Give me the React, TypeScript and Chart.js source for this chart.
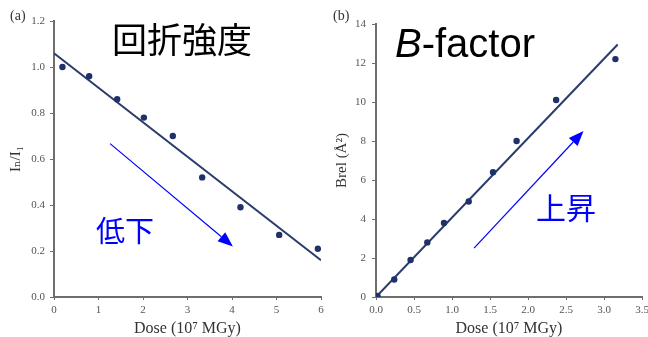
import React, { useEffect, useRef } from 'react';
import { Chart, registerables } from 'chart.js';
Chart.register(...registerables);

// ---- Panel (a): diffraction intensity ----
const doseA = [0.19, 0.79, 1.42, 2.02, 2.67, 3.33, 4.19, 5.06, 5.93];
const intensityA = [1.0, 0.96, 0.86, 0.78, 0.70, 0.52, 0.39, 0.27, 0.21];
const fitDoseA = [0, 6];
const fitIntensityA = [1.06, 0.16];
const arrowDoseA = [1.26, 4.02];
const arrowIntensityA = [0.667, 0.22];

// ---- Panel (b): B-factor ----
const doseB = [0.02, 0.24, 0.455, 0.675, 0.895, 1.22, 1.54, 1.85, 2.37, 3.15];
const bfactorB = [0.05, 0.9, 1.9, 2.8, 3.8, 4.9, 6.4, 8.0, 10.1, 12.2];
const fitDoseB = [0, 3.18];
const fitBfactorB = [0, 12.95];
const arrowDoseB = [1.29, 2.73];
const arrowBfactorB = [2.51, 8.51];

const POINT_COLOR = '#1e3168';
const LINE_COLOR = '#2b3c6c';
const AXIS_COLOR = '#6e6e6e';
const ARROW_COLOR = '#0000ff';
const SERIF = '"Liberation Serif", "DejaVu Serif", serif';

const toXY = (xs: number[], ys: number[]) => xs.map((x, i) => ({ x, y: ys[i] }));

function makeArrowPlugin(xs: number[], ys: number[], color: string) {
  return {
    id: 'arrowPlugin',
    afterDatasetsDraw(chart: any) {
      const sx = chart.scales.x;
      const sy = chart.scales.y;
      const x1 = sx.getPixelForValue(xs[0]);
      const y1 = sy.getPixelForValue(ys[0]);
      const x2 = sx.getPixelForValue(xs[1]);
      const y2 = sy.getPixelForValue(ys[1]);
      const ang = Math.atan2(y2 - y1, x2 - x1);
      const c = Math.cos(ang);
      const s = Math.sin(ang);
      const headLen = 15;
      const headW = 6;
      const bx = x2 - headLen * c;
      const by = y2 - headLen * s;
      const ctx = chart.ctx;
      ctx.save();
      ctx.strokeStyle = color;
      ctx.fillStyle = color;
      ctx.lineWidth = 1.2;
      ctx.beginPath();
      ctx.moveTo(x1, y1);
      ctx.lineTo(bx, by);
      ctx.stroke();
      ctx.beginPath();
      ctx.moveTo(x2, y2);
      ctx.lineTo(bx - headW * s, by + headW * c);
      ctx.lineTo(bx + headW * s, by - headW * c);
      ctx.closePath();
      ctx.fill();
      ctx.restore();
    },
  };
}

interface PanelProps {
  left: number;
  width: number;
  xs: number[];
  ys: number[];
  fitX: number[];
  fitY: number[];
  arrowX: number[];
  arrowY: number[];
  xMax: number;
  xStep: number;
  xDigits: number;
  yMax: number;
  yStep: number;
  yDigits: number;
  yTitle: string;
  yTitlePad: number;
  yAxisWidth: number;
  padTop: number;
  padRight: number;
  yTickPad: number;
}

function Panel(p: PanelProps) {
  const ref = useRef<HTMLCanvasElement | null>(null);
  useEffect(() => {
    if (!ref.current) return;
    const chart = new Chart(ref.current, {
      type: 'scatter',
      data: {
        datasets: [
          {
            data: toXY(p.fitX, p.fitY),
            showLine: true,
            borderColor: LINE_COLOR,
            borderWidth: 2,
            pointRadius: 0,
            order: 2,
          },
          {
            data: toXY(p.xs, p.ys),
            showLine: false,
            backgroundColor: POINT_COLOR,
            borderColor: POINT_COLOR,
            borderWidth: 0,
            pointRadius: 3.2,
            order: 1,
          },
        ],
      },
      options: {
        animation: false,
        responsive: false,
        events: [],
        layout: { padding: { top: p.padTop, right: p.padRight, left: 0, bottom: 0 } },
        plugins: { legend: { display: false }, tooltip: { enabled: false } },
        scales: {
          x: {
            type: 'linear',
            min: 0,
            max: p.xMax,
            ticks: {
              stepSize: p.xStep,
              color: '#555',
              font: { family: SERIF, size: 11 },
              padding: 4,
              maxRotation: 0,
              callback: (v: any) => Number(v).toFixed(p.xDigits),
            },
            grid: {
              display: true,
              drawOnChartArea: false,
              drawTicks: true,
              tickLength: 3,
              color: AXIS_COLOR,
              lineWidth: 1,
            },
            border: { display: true, color: AXIS_COLOR, width: 2 },
            title: {
              display: true,
              text: 'Dose (10⁷ MGy)',
              color: '#333',
              font: { family: SERIF, size: 16, lineHeight: 1 },
              padding: 0,
            },
            afterFit: (scale: any) => {
              scale.height = 40;
              scale.paddingLeft = 0;
              scale.paddingRight = 0;
            },
          },
          y: {
            type: 'linear',
            min: 0,
            max: p.yMax,
            ticks: {
              stepSize: p.yStep,
              color: '#555',
              font: { family: SERIF, size: 11 },
              padding: p.yTickPad,
              callback: (v: any) => Number(v).toFixed(p.yDigits),
            },
            grid: {
              display: true,
              drawOnChartArea: false,
              drawTicks: true,
              tickLength: 4,
              color: AXIS_COLOR,
              lineWidth: 1,
            },
            border: { display: true, color: AXIS_COLOR, width: 2 },
            title: {
              display: true,
              text: p.yTitle,
              color: '#333',
              font: { family: SERIF, size: 15, lineHeight: 1.2 },
              padding: { top: p.yTitlePad, bottom: 0 },
            },
            afterFit: (scale: any) => {
              scale.width = p.yAxisWidth;
              scale.paddingTop = 0;
              scale.paddingBottom = 0;
            },
          },
        },
      },
      plugins: [makeArrowPlugin(p.arrowX, p.arrowY, ARROW_COLOR)],
    } as any);
    return () => chart.destroy();
  }, []);
  return (
    <canvas
      ref={ref}
      width={p.width}
      height={337}
      style={{ position: 'absolute', left: p.left, top: 0, width: p.width, height: 337 }}
    />
  );
}

const CJK = '"Noto Sans CJK JP", "Noto Sans CJK SC", sans-serif';

export default function App() {
  const abs = (extra: React.CSSProperties): React.CSSProperties => ({
    position: 'absolute',
    whiteSpace: 'nowrap',
    lineHeight: 1,
    ...extra,
  });
  return (
    <div style={{ position: 'absolute', left: 0, top: 0, width: 648, height: 337, background: '#fff', overflow: 'hidden' }}>
      <Panel
        left={0}
        width={330}
        xs={doseA}
        ys={intensityA}
        fitX={fitDoseA}
        fitY={fitIntensityA}
        arrowX={arrowDoseA}
        arrowY={arrowIntensityA}
        xMax={6}
        xStep={1}
        xDigits={0}
        yMax={1.2}
        yStep={0.2}
        yDigits={1}
        yTitle="Iₙ/I₁"
        yTitlePad={7}
        yAxisWidth={54}
        padTop={21}
        padRight={9}
        yTickPad={5}
      />
      <Panel
        left={330}
        width={318}
        xs={doseB}
        ys={bfactorB}
        fitX={fitDoseB}
        fitY={fitBfactorB}
        arrowX={arrowDoseB}
        arrowY={arrowBfactorB}
        xMax={3.5}
        xStep={0.5}
        xDigits={1}
        yMax={14}
        yStep={2}
        yDigits={0}
        yTitle="Brel (Å²)"
        yTitlePad={3}
        yAxisWidth={46}
        padTop={24}
        padRight={6}
        yTickPad={6}
      />
      <div style={abs({ left: 10, top: 9, fontFamily: SERIF, fontSize: 14, color: '#333' })}>(a)</div>
      <div style={abs({ left: 333, top: 9, fontFamily: SERIF, fontSize: 14, color: '#333' })}>(b)</div>
      <div style={abs({ left: 112, top: 20, fontFamily: CJK, fontSize: 35, color: '#000' })}>回折強度</div>
      <div style={abs({ left: 395, top: 23, fontFamily: '"Liberation Sans", Arial, sans-serif', fontSize: 40, color: '#000' })}>
        <i>B</i>-factor
      </div>
      <div style={abs({ left: 96, top: 215, fontFamily: CJK, fontSize: 29, color: ARROW_COLOR })}>低下</div>
      <div style={abs({ left: 536, top: 191, fontFamily: CJK, fontSize: 30, color: ARROW_COLOR })}>上昇</div>
    </div>
  );
}
